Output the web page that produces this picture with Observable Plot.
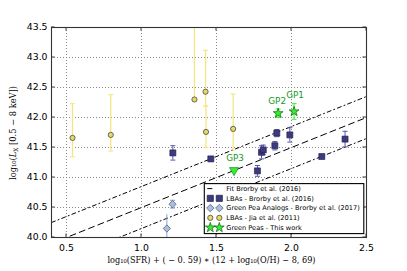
<!DOCTYPE html>
<html><head><meta charset="utf-8">
<script src="https://cdn.jsdelivr.net/npm/d3@7"></script>
<script src="https://cdn.jsdelivr.net/npm/@observablehq/plot@0.6"></script>
<style>body{margin:0;background:#fff;} svg{display:block;}</style>
</head><body><div id="chart"></div>
<script>
// ---- axis ticks ----
const xTicks = [0.5, 1.0, 1.5, 2.0, 2.5];
const yTicks = [40.0, 40.5, 41.0, 41.5, 42.0, 42.5, 43.0, 43.5];

// ---- LBAs - Brorby et al. (2016) ----
const lbaX   = [1.209, 1.462, 1.773, 1.800, 1.812, 1.889, 1.902, 1.989, 2.202, 2.357];
const lbaY   = [41.41, 41.31, 41.11, 41.42, 41.46, 41.53, 41.74, 41.71, 41.35, 41.64];
const lbaErr = [0.12,  0.03,  0.09,  0.11,  0.08,  0.07,  0.06,  0.12,  0.0,   0.13];

// ---- Green Pea Analogs - Brorby et al. (2017) ----
const gpaX  = [1.169, 1.207];
const gpaY  = [40.15, 40.555];
const gpaLo = [39.80, 40.49];
const gpaHi = [40.38, 40.62];

// ---- LBAs - Jia et al. (2011) ----
const jiaX  = [0.540, 0.795, 1.353, 1.427, 1.430, 1.611];
const jiaY  = [41.66, 41.71, 42.30, 42.43, 41.76, 41.81];
const jiaLo = [41.345, 41.44, 42.30, 42.19, 41.50, 41.46];
const jiaHi = [42.23, 42.38, 44.20, 43.12, 42.19, 42.39];

// ---- Green Peas - This work ----
const gpNames = ["GP1", "GP2", "GP3"];
const gpX     = [2.017, 1.911, 1.617];
const gpY     = [42.10, 42.07, 41.12];
const gpErr   = [0.13, 0.07, 0.0];
const gpLimit = [false, false, true];

// ---- Fit Brorby et al. (2016) ----
const fitSlope = 1.0, fitIntercept = 39.5, fitScatter = 0.35;
const fitRange = [0.4, 2.5];

// ---- build tables ----
const lba = lbaX.map((x, i) => ({x, y: lbaY[i], lo: lbaY[i] - lbaErr[i], hi: lbaY[i] + lbaErr[i], e: lbaErr[i]}));
const gpa = gpaX.map((x, i) => ({x, y: gpaY[i], lo: gpaLo[i], hi: gpaHi[i]}));
const jia = jiaX.map((x, i) => ({x, y: jiaY[i], lo: jiaLo[i], hi: jiaHi[i]}));
const gp  = gpX.map((x, i) => ({name: gpNames[i], x, y: gpY[i], lo: gpY[i] - gpErr[i], hi: gpY[i] + gpErr[i], e: gpErr[i], limit: gpLimit[i]}));
const fitLine = off => fitRange.map(x => ({x, y: fitSlope * x + fitIntercept + off}));

const capSym = {draw(ctx, size) { const r = Math.sqrt(size / Math.PI); ctx.moveTo(-r, 0); ctx.lineTo(r, 0); }};
const caps = (data, stroke, r, filt = () => true) => [
  Plot.dot(data.filter(filt), {x: "x", y: "lo", symbol: capSym, r, stroke, fill: "none", strokeWidth: 1, clip: true}),
  Plot.dot(data.filter(filt), {x: "x", y: "hi", symbol: capSym, r, stroke, fill: "none", strokeWidth: 1, clip: true})
];

const C = {
  lba: "#3d3a82", lbaEdge: "#1d1b40", lbaErr: "#5b57b0",
  gpa: "#a9bfe0", gpaEdge: "#555a70", gpaErr: "#8d9fd6",
  jia: "#e6d86a", jiaEdge: "#333", jiaErr: "#f2e67a",
  gp: "#33f033", gpEdge: "#0b5e0b", gpText: "#15991a"
};

const plot = Plot.plot({
  width: 407, height: 271,
  marginLeft: 51, marginRight: 41, marginTop: 27, marginBottom: 34,
  x: {domain: [0.4, 2.5], ticks: xTicks, tickFormat: d3.format(".1f")},
  y: {domain: [40, 43.5], ticks: yTicks, tickFormat: d3.format(".1f")},
  style: {fontFamily: "DejaVu Sans", fontSize: "9.3px", color: "#000", background: "#fff", overflow: "visible"},
  marks: [
    Plot.gridX(xTicks, {stroke: "#888", strokeOpacity: 1, strokeDasharray: "1,2"}),
    Plot.gridY(yTicks, {stroke: "#888", strokeOpacity: 1, strokeDasharray: "1,2"}),
    Plot.line(fitLine(0), {x: "x", y: "y", stroke: "#000", strokeWidth: 1, strokeDasharray: "6,4", clip: true}),
    Plot.line(fitLine(fitScatter), {x: "x", y: "y", stroke: "#000", strokeWidth: 1, strokeDasharray: "4,3,1,3", clip: true}),
    Plot.line(fitLine(-fitScatter), {x: "x", y: "y", stroke: "#000", strokeWidth: 1, strokeDasharray: "4,3,1,3", clip: true}),
    // Jia
    Plot.ruleX(jia, {x: "x", y1: "lo", y2: "hi", stroke: C.jiaErr, strokeWidth: 1.2, clip: true}),
    ...caps(jia, C.jiaErr, 2.5, d => d.hi < 43.5),
    Plot.dot(jia, {x: "x", y: "y", r: 2.6, fill: C.jia, stroke: C.jiaEdge, strokeWidth: 0.7}),
    // Green pea analogs
    Plot.ruleX(gpa, {x: "x", y1: "lo", y2: "hi", stroke: C.gpaErr, strokeWidth: 1, clip: true}),
    ...caps(gpa, C.gpaErr, 2.5, d => d.lo > 40),
    Plot.dot(gpa, {x: "x", y: "y", symbol: "square", rotate: 45, r: 2.9, fill: C.gpa, stroke: C.gpaEdge, strokeWidth: 0.7}),
    // LBAs Brorby
    Plot.ruleX(lba.filter(d => d.e > 0), {x: "x", y1: "lo", y2: "hi", stroke: C.lbaErr, strokeWidth: 1}),
    ...caps(lba, C.lbaErr, 2.5, d => d.e > 0),
    Plot.dot(lba, {x: "x", y: "y", symbol: "square", r: 3.4, fill: C.lba, stroke: C.lbaEdge, strokeWidth: 0.6}),
    // Green peas
    Plot.ruleX(gp.filter(d => d.e > 0), {x: "x", y1: "lo", y2: "hi", stroke: C.gp, strokeWidth: 1}),
    ...caps(gp, C.gp, 2.5, d => d.e > 0),
    Plot.dot(gp.filter(d => !d.limit), {x: "x", y: "y", symbol: "star", r: 3.1, fill: C.gp, stroke: C.gpEdge, strokeWidth: 0.7}),
    Plot.dot(gp.filter(d => d.limit), {x: "x", y: "y", symbol: "triangle", rotate: 180, r: 3.5, fill: C.gp, stroke: C.gpEdge, strokeWidth: 0.5}),
    Plot.text(gp.filter(d => d.name === "GP1"), {x: "x", y: "y", text: "name", dy: -16, dx: 1, textAnchor: "middle", fill: C.gpText, fontSize: 8.8, fontFamily: "DejaVu Sans"}),
    Plot.text(gp.filter(d => d.name === "GP2"), {x: "x", y: "y", text: "name", dy: -12, dx: -1, textAnchor: "middle", fill: C.gpText, fontSize: 8.8, fontFamily: "DejaVu Sans"}),
    Plot.text(gp.filter(d => d.name === "GP3"), {x: "x", y: "y", text: "name", dy: -12, dx: 1, textAnchor: "middle", fill: C.gpText, fontSize: 8.8, fontFamily: "DejaVu Sans"}),
    Plot.frame({stroke: "#333", strokeWidth: 1.1}),
    Plot.axisX(xTicks, {tickSize: 0, tickPadding: 7, label: null}),
    Plot.axisY(yTicks, {tickSize: 0, tickPadding: 4, label: null})
  ]
});
document.getElementById("chart").appendChild(plot);

// ---- inward ticks, axis labels, legend (positioned from Plot's scales) ----
const svg = d3.select(plot);
const sx = plot.scale("x"), sy = plot.scale("y");
const L = sx.apply(0.4), R = sx.apply(2.5), B = sy.apply(40), T = sy.apply(43.5);
const tg = svg.append("g").attr("stroke", "#333").attr("stroke-width", 1);
xTicks.forEach(t => {
  const X = sx.apply(t);
  tg.append("line").attr("x1", X).attr("x2", X).attr("y1", B).attr("y2", B - 3.5);
  tg.append("line").attr("x1", X).attr("x2", X).attr("y1", T).attr("y2", T + 3.5);
});
yTicks.forEach(t => {
  const Y = sy.apply(t);
  tg.append("line").attr("x1", L).attr("x2", L + 3.5).attr("y1", Y).attr("y2", Y);
  tg.append("line").attr("x1", R).attr("x2", R - 3.5).attr("y1", Y).attr("y2", Y);
});

// x label
svg.append("text").attr("x", (L + R) / 2 + 3).attr("y", B + 26)
  .attr("text-anchor", "middle").attr("font-family", "DejaVu Serif").attr("font-size", 8.6).attr("fill", "#000")
  .text("log₁₀(SFR) + ( − 0. 59) ∗ (12 + log₁₀(O/H) − 8, 69)")
  .attr("textLength", 208).attr("lengthAdjust", "spacingAndGlyphs");

// y label
const yl = svg.append("text").attr("transform", `translate(${L - 35},${(T + B) / 2 + 1}) rotate(-90)`)
  .attr("text-anchor", "middle").attr("font-family", "DejaVu Serif").attr("font-size", 8.6).attr("fill", "#000");
yl.append("tspan").text("log₁₀(");
yl.append("tspan").attr("font-style", "italic").text("L");
yl.append("tspan").attr("dy", 2).attr("font-size", 6).text("X");
yl.append("tspan").attr("dy", -2).text(" [0.5 − 8 keV])");
yl.attr("textLength", 94).attr("lengthAdjust", "spacingAndGlyphs");

// legend
const lw = 159.5, lh = 50;
const lx = R - 161.7, ly = B - 53.4;
const lg = svg.append("g").attr("transform", `translate(${lx},${ly})`);
lg.append("rect").attr("width", lw).attr("height", lh).attr("fill", "#fff").attr("stroke", "#000").attr("stroke-width", 1.1);
const rows = [
  {label: "Fit Brorby et al. (2016)", type: "fit"},
  {label: "LBAs - Brorby et al. (2016)", sym: d3.symbolSquare, size: 38, fill: C.lba, stroke: C.lbaEdge},
  {label: "Green Pea Analogs - Brorby et al. (2017)", sym: d3.symbolSquare, size: 28, rot: 45, fill: C.gpa, stroke: C.gpaEdge},
  {label: "LBAs - Jia et al. (2011)", sym: d3.symbolCircle, size: 22, fill: C.jia, stroke: C.jiaEdge},
  {label: "Green Peas - This work", sym: d3.symbolStar, size: 30, fill: C.gp, stroke: C.gpEdge}
];
rows.forEach((r, i) => {
  const yy = 5 + i * 9.75;
  if (r.type === "fit") {
    lg.append("line").attr("x1", 3).attr("x2", 18).attr("y1", yy).attr("y2", yy).attr("stroke", "#000").attr("stroke-width", 1).attr("stroke-dasharray", "5,20");
  } else {
    [6, 15].forEach(xx => {
      lg.append("path").attr("d", d3.symbol(r.sym, r.size)()).attr("transform", `translate(${xx},${yy}) rotate(${r.rot || 0})`)
        .attr("fill", r.fill).attr("stroke", r.stroke).attr("stroke-width", 0.7);
    });
  }
  lg.append("text").attr("x", 22).attr("y", yy).attr("dy", "0.35em").attr("text-anchor", "start")
    .attr("font-family", "DejaVu Sans").attr("font-size", 6.6).attr("fill", "#000").text(r.label);
});
</script>
</body></html>
